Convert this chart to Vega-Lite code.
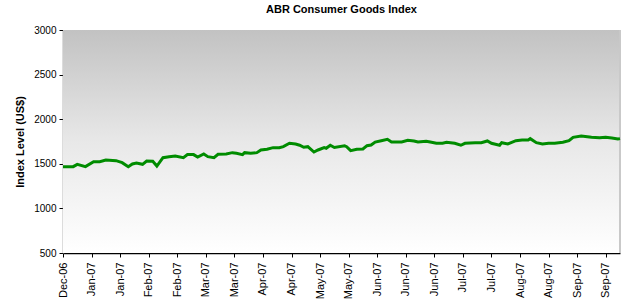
{
  "$schema": "https://vega.github.io/schema/vega-lite/v6.json",
  "width": 557,
  "height": 223,
  "autosize": {"type": "none"},
  "padding": {"left": 63, "top": 30, "right": 10, "bottom": 50},
  "background": "#ffffff",
  "config": {
    "view": {"stroke": null},
    "font": "Liberation Sans",
    "title": {"fontSize": 11, "fontWeight": "bold", "color": "#000000", "anchor": "middle", "offset": 10}
  },
  "title": "ABR Consumer Goods Index",
  "data": {"values": [
    {"date": "2006-12-29", "value": 1468},
    {"date": "2007-01-03", "value": 1468},
    {"date": "2007-01-05", "value": 1494},
    {"date": "2007-01-09", "value": 1468},
    {"date": "2007-01-13", "value": 1524},
    {"date": "2007-01-16", "value": 1524},
    {"date": "2007-01-19", "value": 1543},
    {"date": "2007-01-24", "value": 1535},
    {"date": "2007-01-27", "value": 1513},
    {"date": "2007-01-30", "value": 1468},
    {"date": "2007-02-01", "value": 1498},
    {"date": "2007-02-03", "value": 1509},
    {"date": "2007-02-06", "value": 1494},
    {"date": "2007-02-08", "value": 1531},
    {"date": "2007-02-11", "value": 1528},
    {"date": "2007-02-13", "value": 1475},
    {"date": "2007-02-16", "value": 1569},
    {"date": "2007-02-19", "value": 1580},
    {"date": "2007-02-22", "value": 1588},
    {"date": "2007-02-26", "value": 1569},
    {"date": "2007-02-28", "value": 1603},
    {"date": "2007-03-03", "value": 1603},
    {"date": "2007-03-05", "value": 1575},
    {"date": "2007-03-08", "value": 1610},
    {"date": "2007-03-10", "value": 1580},
    {"date": "2007-03-13", "value": 1569},
    {"date": "2007-03-15", "value": 1606},
    {"date": "2007-03-19", "value": 1610},
    {"date": "2007-03-22", "value": 1625},
    {"date": "2007-03-24", "value": 1618},
    {"date": "2007-03-27", "value": 1603},
    {"date": "2007-03-28", "value": 1625},
    {"date": "2007-03-31", "value": 1618},
    {"date": "2007-04-03", "value": 1625},
    {"date": "2007-04-05", "value": 1655},
    {"date": "2007-04-08", "value": 1663},
    {"date": "2007-04-11", "value": 1681},
    {"date": "2007-04-14", "value": 1681},
    {"date": "2007-04-16", "value": 1692},
    {"date": "2007-04-19", "value": 1730},
    {"date": "2007-04-22", "value": 1722},
    {"date": "2007-04-24", "value": 1708},
    {"date": "2007-04-26", "value": 1685},
    {"date": "2007-04-28", "value": 1692},
    {"date": "2007-05-01", "value": 1632},
    {"date": "2007-05-03", "value": 1655},
    {"date": "2007-05-06", "value": 1681},
    {"date": "2007-05-07", "value": 1674},
    {"date": "2007-05-09", "value": 1708},
    {"date": "2007-05-11", "value": 1683},
    {"date": "2007-05-16", "value": 1703},
    {"date": "2007-05-17", "value": 1692},
    {"date": "2007-05-19", "value": 1647},
    {"date": "2007-05-22", "value": 1663},
    {"date": "2007-05-25", "value": 1666},
    {"date": "2007-05-27", "value": 1703},
    {"date": "2007-05-29", "value": 1711},
    {"date": "2007-05-31", "value": 1744},
    {"date": "2007-06-03", "value": 1759},
    {"date": "2007-06-06", "value": 1774},
    {"date": "2007-06-08", "value": 1744},
    {"date": "2007-06-11", "value": 1744},
    {"date": "2007-06-13", "value": 1744},
    {"date": "2007-06-16", "value": 1763},
    {"date": "2007-06-19", "value": 1756},
    {"date": "2007-06-21", "value": 1744},
    {"date": "2007-06-25", "value": 1752},
    {"date": "2007-06-27", "value": 1744},
    {"date": "2007-06-30", "value": 1730},
    {"date": "2007-07-03", "value": 1730},
    {"date": "2007-07-05", "value": 1741},
    {"date": "2007-07-09", "value": 1730},
    {"date": "2007-07-12", "value": 1708},
    {"date": "2007-07-14", "value": 1730},
    {"date": "2007-07-19", "value": 1737},
    {"date": "2007-07-22", "value": 1737},
    {"date": "2007-07-25", "value": 1756},
    {"date": "2007-07-27", "value": 1730},
    {"date": "2007-07-31", "value": 1708},
    {"date": "2007-08-01", "value": 1737},
    {"date": "2007-08-04", "value": 1722},
    {"date": "2007-08-08", "value": 1759},
    {"date": "2007-08-11", "value": 1767},
    {"date": "2007-08-14", "value": 1767},
    {"date": "2007-08-15", "value": 1782},
    {"date": "2007-08-18", "value": 1737},
    {"date": "2007-08-21", "value": 1722},
    {"date": "2007-08-24", "value": 1730},
    {"date": "2007-08-27", "value": 1730},
    {"date": "2007-08-31", "value": 1741},
    {"date": "2007-09-03", "value": 1759},
    {"date": "2007-09-05", "value": 1797},
    {"date": "2007-09-09", "value": 1812},
    {"date": "2007-09-12", "value": 1804},
    {"date": "2007-09-14", "value": 1797},
    {"date": "2007-09-18", "value": 1793},
    {"date": "2007-09-21", "value": 1797},
    {"date": "2007-09-24", "value": 1789},
    {"date": "2007-09-27", "value": 1778},
    {"date": "2007-09-28", "value": 1782}
  ]},
  "encoding": {
    "x": {
      "field": "date",
      "type": "temporal",
      "scale": {
        "type": "utc",
        "domain": [
          {"year": 2006, "month": 12, "date": 29, "utc": true},
          {"year": 2007, "month": 9, "date": 28, "utc": true}
        ]
      },
      "axis": {
        "title": null,
        "grid": false,
        "format": "%b-%y",
        "labelAngle": -90,
        "labelFontSize": 11,
        "labelColor": "#000000",
        "labelPadding": 5,
        "labelFlush": false,
        "labelOverlap": false,
        "domainColor": "#000000",
        "domainWidth": 1.5,
        "tickColor": "#000000",
        "tickSize": 4,
        "values": [
          {"year": 2006, "month": 12, "date": 29, "utc": true},
          {"year": 2007, "month": 1, "date": 12, "utc": true},
          {"year": 2007, "month": 1, "date": 26, "utc": true},
          {"year": 2007, "month": 2, "date": 9, "utc": true},
          {"year": 2007, "month": 2, "date": 23, "utc": true},
          {"year": 2007, "month": 3, "date": 9, "utc": true},
          {"year": 2007, "month": 3, "date": 23, "utc": true},
          {"year": 2007, "month": 4, "date": 6, "utc": true},
          {"year": 2007, "month": 4, "date": 20, "utc": true},
          {"year": 2007, "month": 5, "date": 4, "utc": true},
          {"year": 2007, "month": 5, "date": 18, "utc": true},
          {"year": 2007, "month": 6, "date": 1, "utc": true},
          {"year": 2007, "month": 6, "date": 15, "utc": true},
          {"year": 2007, "month": 6, "date": 29, "utc": true},
          {"year": 2007, "month": 7, "date": 13, "utc": true},
          {"year": 2007, "month": 7, "date": 27, "utc": true},
          {"year": 2007, "month": 8, "date": 10, "utc": true},
          {"year": 2007, "month": 8, "date": 24, "utc": true},
          {"year": 2007, "month": 9, "date": 7, "utc": true},
          {"year": 2007, "month": 9, "date": 21, "utc": true}
        ]
      }
    },
    "y": {
      "field": "value",
      "type": "quantitative",
      "scale": {"domain": [500, 3000], "nice": false, "zero": false},
      "axis": {
        "title": "Index Level (US$)",
        "titleFontSize": 11,
        "titleFontWeight": "bold",
        "titleColor": "#000000",
        "titlePadding": 8,
        "values": [500, 1000, 1500, 2000, 2500, 3000],
        "format": "d",
        "grid": false,
        "labelFontSize": 10,
        "labelColor": "#000000",
        "labelPadding": 3,
        "domainColor": "#707070",
        "domainWidth": 1.5,
        "tickColor": "#000000",
        "tickSize": 4
      }
    }
  },
  "layer": [
    {
      "mark": {
        "type": "rect",
        "fill": {
          "gradient": "linear",
          "x1": 0, "y1": 0, "x2": 0, "y2": 1,
          "stops": [
            {"offset": 0, "color": "#c2c2c2"},
            {"offset": 0.5, "color": "#e8e8e8"},
            {"offset": 1, "color": "#ffffff"}
          ]
        }
      },
      "encoding": {
        "x": {"datum": {"year": 2006, "month": 12, "date": 29, "utc": true}, "type": "temporal"},
        "x2": {"datum": {"year": 2007, "month": 9, "date": 28, "utc": true}},
        "y": {"datum": 3000, "type": "quantitative"},
        "y2": {"datum": 500}
      }
    },
    {
      "mark": {"type": "rule", "color": "#c8c8c8", "strokeWidth": 1.5},
      "encoding": {
        "x": {"datum": {"year": 2007, "month": 9, "date": 28, "utc": true}, "type": "temporal"},
        "y": {"datum": 3000, "type": "quantitative"},
        "y2": {"datum": 500}
      }
    },
    {
      "mark": {"type": "line", "color": "#008c00", "strokeWidth": 3, "interpolate": "linear"}
    }
  ]
}
